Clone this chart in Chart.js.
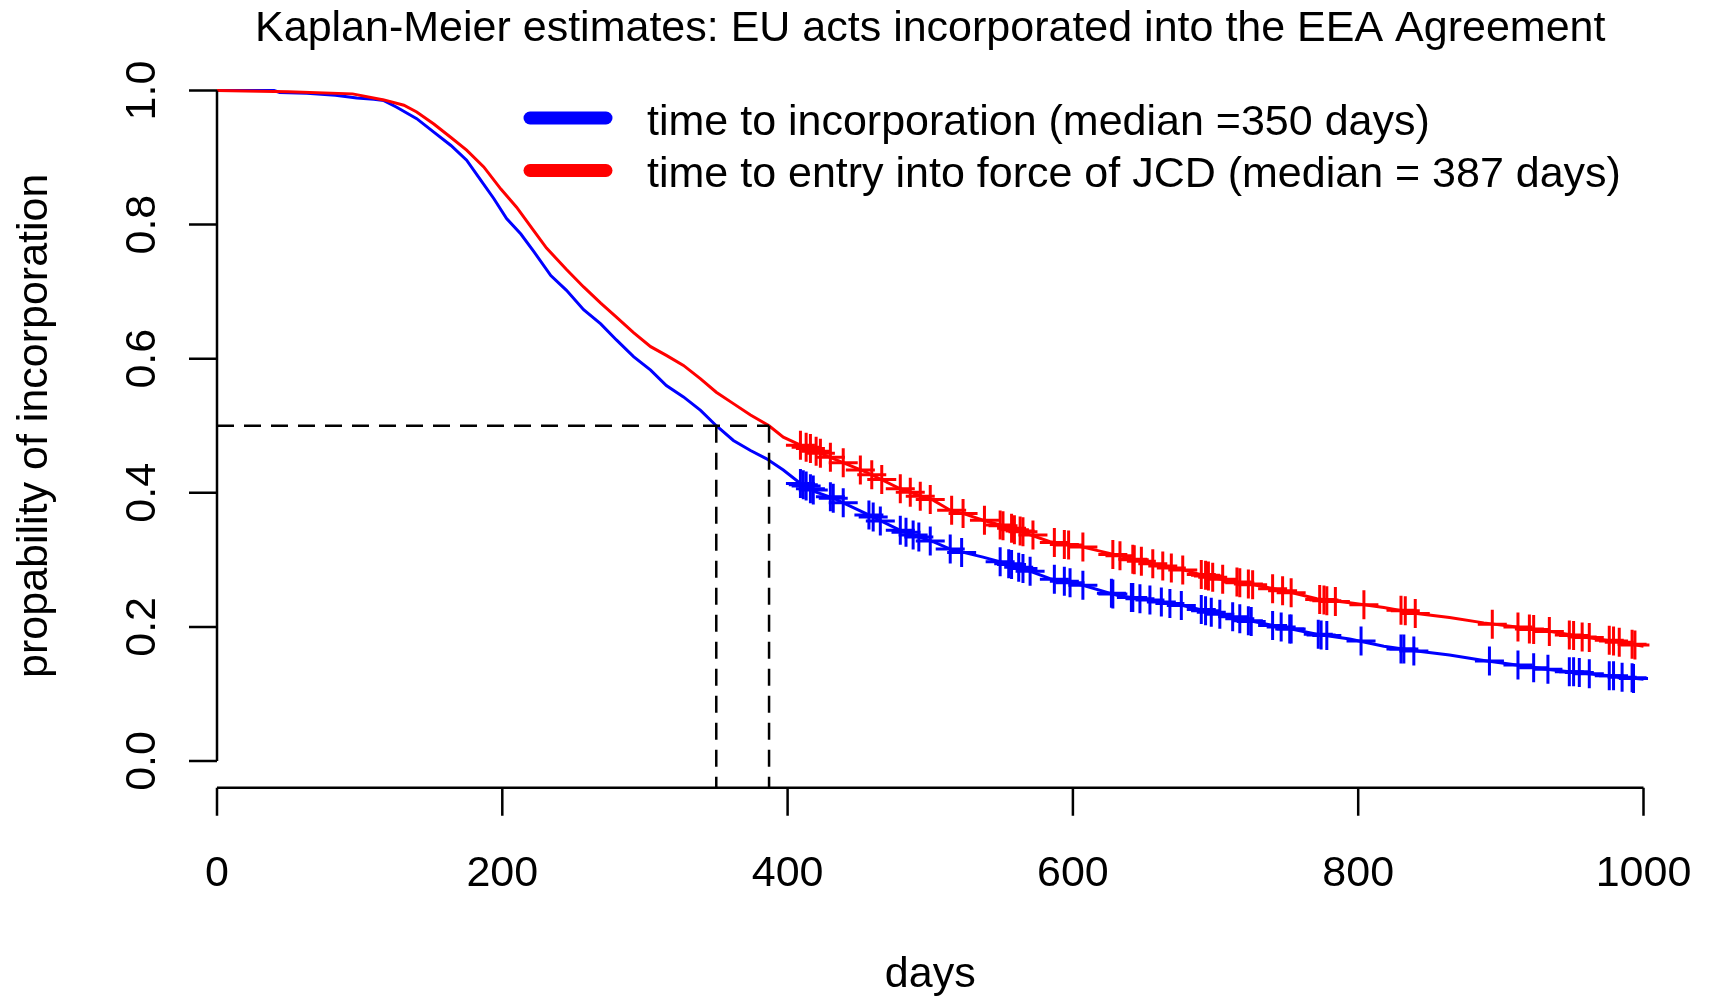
<!DOCTYPE html>
<html>
<head>
<meta charset="utf-8">
<script src="https://cdn.jsdelivr.net/npm/chart.js@4/dist/chart.umd.min.js"></script>
<style>
  html, body { margin: 0; padding: 0; background: #ffffff; }
  canvas { display: block; }
</style>
</head>
<body>
<canvas id="km" width="1710" height="1000"></canvas>
<script>
// ---------------- data ----------------
const chartTitle = 'Kaplan-Meier estimates: EU acts incorporated into the EEA Agreement';
const xAxisTitle = 'days';
const yAxisTitle = 'propability of incorporation';
const seriesLabels = ['time to incorporation (median =350 days)', 'time to entry into force of JCD (median = 387 days)'];
const seriesColors = ['#0000ff', '#ff0000'];

const xTicks = [0, 200, 400, 600, 800, 1000];
const xTickLabels = ['0', '200', '400', '600', '800', '1000'];
const yTicks = [0, 0.2, 0.4, 0.6, 0.8, 1.0];
const yTickLabels = ['0.0', '0.2', '0.4', '0.6', '0.8', '1.0'];

const medianLevel = 0.5;
const medianDays = [350, 387];

const blueDays = [0,40,44,63,83,98,110,117,126,140,152,164,175,185,194,203,213,222,234,245,257,269,280,292,304,315,327,339,350,362,374,385,397,409,420,432,455,479,502,514,537,561,584,607,631,654,677,701,724,748,771,794,818,841,864,888,911,935,958,981,1000];
const blueSurv = [1.000,1.000,0.997,0.996,0.993,0.989,0.987,0.985,0.975,0.958,0.938,0.918,0.896,0.866,0.839,0.809,0.786,0.760,0.724,0.702,0.673,0.652,0.628,0.603,0.583,0.560,0.543,0.523,0.500,0.478,0.463,0.451,0.434,0.414,0.401,0.392,0.369,0.344,0.327,0.316,0.304,0.290,0.272,0.262,0.247,0.240,0.232,0.220,0.209,0.199,0.189,0.182,0.171,0.164,0.158,0.150,0.143,0.136,0.131,0.126,0.122];

const redDays = [0,50,95,117,131,140,152,164,175,187,199,210,222,231,245,257,269,280,292,304,315,327,339,350,362,374,387,397,409,432,455,479,502,514,526,537,549,561,584,607,631,654,677,701,724,748,771,794,818,841,864,888,911,935,958,981,1000];
const redSurv = [1.000,0.998,0.995,0.986,0.978,0.968,0.950,0.930,0.911,0.886,0.853,0.826,0.791,0.765,0.733,0.707,0.683,0.662,0.639,0.618,0.605,0.590,0.570,0.550,0.533,0.516,0.500,0.483,0.471,0.451,0.431,0.406,0.389,0.374,0.367,0.359,0.352,0.344,0.327,0.319,0.307,0.295,0.285,0.272,0.264,0.254,0.242,0.236,0.229,0.220,0.214,0.206,0.200,0.193,0.185,0.178,0.171];

const blueCensorDays = [409,411,413,416,418,430,432,439,457,460,465,479,483,488,492,500,514,522,549,555,557,562,565,570,587,594,598,607,627,628,641,642,647,654,662,668,676,690,693,697,703,712,717,723,725,740,746,752,753,772,774,778,802,830,832,839,892,912,923,933,948,951,955,962,976,979,985,992,993];
const blueCensorSurv = [.414,.412,.410,.406,.404,.394,.392,.385,.367,.364,.358,.344,.341,.337,.334,.328,.316,.311,.297,.294,.293,.289,.287,.283,.271,.268,.266,.262,.250,.249,.244,.244,.242,.240,.237,.235,.232,.226,.224,.222,.219,.215,.212,.209,.208,.202,.200,.197,.197,.189,.188,.187,.179,.167,.167,.164,.149,.143,.139,.137,.133,.133,.132,.130,.127,.127,.125,.124,.123];

const redCensorDays = [409,413,416,420,423,430,439,451,459,466,479,486,493,500,515,523,538,549,551,557,559,563,565,572,587,594,597,607,628,633,642,643,648,656,663,669,677,690,693,695,698,705,715,717,723,726,740,747,753,773,776,778,784,804,830,833,840,894,912,920,923,934,948,951,957,962,976,979,983,992,994];
const redCensorSurv = [.471,.468,.466,.462,.459,.453,.445,.434,.427,.420,.406,.401,.395,.390,.374,.369,.359,.352,.351,.347,.345,.343,.342,.337,.326,.323,.322,.319,.308,.306,.301,.300,.298,.294,.291,.288,.285,.278,.277,.276,.274,.271,.267,.266,.264,.263,.257,.254,.251,.241,.240,.239,.238,.233,.225,.224,.220,.204,.200,.197,.196,.193,.188,.187,.185,.184,.180,.179,.177,.174,.173];

// ---------------- helpers ----------------
const pts = (xs, ys) => xs.map((v, i) => ({ x: v, y: ys[i] }));
const FONT = '43px "Liberation Sans", Arial, Helvetica, sans-serif';
const AXIS_LW = 2.5;
const TICK_LEN = 28;

const dashed = { borderColor: '#000000', borderWidth: 2.5, borderDash: [17, 10], pointRadius: 0, fill: false, tension: 0 };

const rStylePlugin = {
  id: 'rStyle',
  afterDraw(chart) {
    const { ctx, chartArea, scales } = chart;
    const xs = scales.x, ys = scales.y;
    ctx.save();
    ctx.strokeStyle = '#000000';
    ctx.fillStyle = '#000000';
    ctx.lineWidth = AXIS_LW;
    ctx.lineCap = 'butt';
    ctx.font = FONT;

    // x axis (R style, at bottom of plot region)
    const yb = chartArea.bottom;
    ctx.beginPath();
    ctx.moveTo(xs.getPixelForValue(xTicks[0]), yb);
    ctx.lineTo(xs.getPixelForValue(xTicks[xTicks.length - 1]), yb);
    xTicks.forEach(t => {
      const px = xs.getPixelForValue(t);
      ctx.moveTo(px, yb);
      ctx.lineTo(px, yb + TICK_LEN);
    });
    ctx.stroke();
    ctx.textAlign = 'center';
    ctx.textBaseline = 'alphabetic';
    xTicks.forEach((t, i) => ctx.fillText(xTickLabels[i], xs.getPixelForValue(t), yb + 98));

    // y axis (from first to last tick only)
    const xl = chartArea.left;
    ctx.beginPath();
    ctx.moveTo(xl, ys.getPixelForValue(yTicks[0]));
    ctx.lineTo(xl, ys.getPixelForValue(yTicks[yTicks.length - 1]));
    yTicks.forEach(t => {
      const py = ys.getPixelForValue(t);
      ctx.moveTo(xl, py);
      ctx.lineTo(xl - TICK_LEN, py);
    });
    ctx.stroke();
    yTicks.forEach((t, i) => {
      ctx.save();
      ctx.translate(xl - 62, ys.getPixelForValue(t));
      ctx.rotate(-Math.PI / 2);
      ctx.textAlign = 'center';
      ctx.fillText(yTickLabels[i], 0, 0);
      ctx.restore();
    });

    // axis titles
    const cx = (chartArea.left + chartArea.right) / 2;
    const cy = (chartArea.top + chartArea.bottom) / 2;
    ctx.textAlign = 'center';
    ctx.fillText(xAxisTitle, cx, 987);
    ctx.save();
    ctx.translate(47, cy);
    ctx.rotate(-Math.PI / 2);
    ctx.fillText(yAxisTitle, 0, 0);
    ctx.restore();

    // main title
    ctx.fillText(chartTitle, cx, 41);

    // legend (R style, no box)
    ctx.textAlign = 'left';
    const rows = [118, 170.5];
    seriesLabels.forEach((lab, i) => {
      ctx.save();
      ctx.strokeStyle = seriesColors[i];
      ctx.lineWidth = 13;
      ctx.lineCap = 'round';
      ctx.beginPath();
      ctx.moveTo(530, rows[i]);
      ctx.lineTo(606, rows[i]);
      ctx.stroke();
      ctx.restore();
      ctx.fillText(lab, 647, rows[i] + 16.5);
    });
    ctx.restore();
  }
};

new Chart(document.getElementById('km'), {
  type: 'line',
  data: {
    datasets: [
      Object.assign({ label: 'h', data: [{ x: 0, y: medianLevel }, { x: medianDays[1], y: medianLevel }] }, dashed),
      Object.assign({ label: 'v1', data: [{ x: medianDays[0], y: medianLevel }, { x: medianDays[0], y: -0.04 }] }, dashed),
      Object.assign({ label: 'v2', data: [{ x: medianDays[1], y: medianLevel }, { x: medianDays[1], y: -0.04 }] }, dashed),
      { label: 'red censored', type: 'scatter', data: pts(redCensorDays, redCensorSurv), pointStyle: 'cross', pointRadius: 14.5, pointBorderWidth: 3, borderColor: seriesColors[1], backgroundColor: seriesColors[1], showLine: false },
      { label: 'blue censored', type: 'scatter', data: pts(blueCensorDays, blueCensorSurv), pointStyle: 'cross', pointRadius: 14.5, pointBorderWidth: 3, borderColor: seriesColors[0], backgroundColor: seriesColors[0], showLine: false },
      { label: seriesLabels[1], data: pts(redDays, redSurv), borderColor: seriesColors[1], borderWidth: 3, pointRadius: 0, fill: false, tension: 0 },
      { label: seriesLabels[0], data: pts(blueDays, blueSurv), borderColor: seriesColors[0], borderWidth: 3, pointRadius: 0, fill: false, tension: 0 }
    ]
  },
  options: {
    responsive: false,
    animation: false,
    devicePixelRatio: 1,
    layout: { padding: { left: 217, right: 66.5, top: 63.7, bottom: 212.2 } },
    scales: {
      x: { type: 'linear', min: 0, max: 1000, display: false },
      y: { type: 'linear', min: -0.04, max: 1.04, display: false }
    },
    plugins: {
      legend: { display: false },
      title: { display: false },
      tooltip: { enabled: false }
    },
    clip: false
  },
  plugins: [rStylePlugin]
});
</script>
</body>
</html>
